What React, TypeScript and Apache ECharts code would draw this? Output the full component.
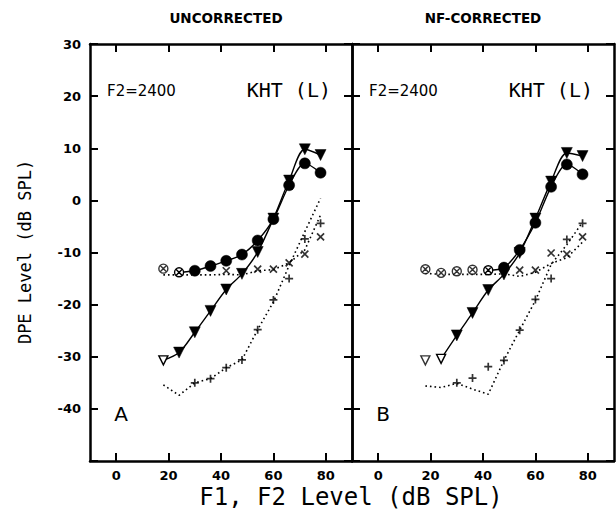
import React, { useEffect, useRef } from 'react';
import * as echarts from 'echarts';

// ---- data ----
const levels = [18, 24, 30, 36, 42, 48, 54, 60, 66, 72, 78];
const xTickValues = [0, 20, 40, 60, 80];

// Panel A (uncorrected)
const aCircle = [-13.1, -13.8, -13.5, -12.6, -11.6, -10.4, -7.7, -3.6, 2.9, 7.1, 5.3];
const aCircleOpen = 2; // leading points drawn as ⊗
const aCircleLineStart = 1;
const aTri = [-30.7, -29.2, -25.3, -21.2, -17.1, -14.1, -9.9, -3.5, 3.8, 9.8, 8.7];
const aTriOpen = 1;
const aTriLineStart = 0;
const aNfUpper = [-14.3, -14.3, -14.3, -14.3, -14.2, -14.3, -13.5, -13.3, -12.0, -9.5, -2.8];
const aNfLower = [-35.4, -37.4, -35.0, -34.2, -32.1, -30.6, -24.8, -19.5, -12.5, -6.0, 0.4];
const aCrossX = [42, 54, 60, 66, 72, 78];
const aCrossY = [-13.5, -13.2, -13.2, -12.0, -10.3, -7.0];
const aPlusX = [30, 36, 42, 48, 54, 60, 66, 72, 78];
const aPlusY = [-35.0, -34.2, -32.1, -30.6, -24.8, -19.1, -15.0, -7.4, -4.4];

// Panel B (NF-corrected)
const bCircle = [-13.2, -13.9, -13.6, -13.3, -13.4, -12.9, -9.5, -4.3, 2.6, 6.9, 5.0];
const bCircleOpen = 5;
const bCircleLineStart = 4;
const bTri = [-30.7, -30.4, -25.9, -21.6, -17.2, -14.2, -10.1, -3.5, 3.6, 9.1, 8.5];
const bTriOpen = 2;
const bTriLineStart = 1;
const bNfUpper = [-14.0, -14.2, -14.2, -14.2, -14.2, -14.1, -14.6, -13.8, -12.1, -11.0, -8.0];
const bNfLower = [-35.6, -35.9, -35.1, -36.2, -37.2, -30.7, -24.9, -19.2, -12.3, -8.5, -4.2];
const bCrossX = [54, 60, 66, 72, 78];
const bCrossY = [-13.4, -13.4, -10.1, -10.3, -7.0];
const bPlusX = [30, 36, 42, 48, 54, 60, 66, 72, 78];
const bPlusY = [-35.0, -34.1, -31.9, -30.7, -24.9, -19.0, -15.0, -7.5, -4.4];

const yMin = -50;
const yMax = 30;
const xMin = -10;
const xMax = 90;

// ---- symbols ----
const SYM_OCIRC = 'path://M0,5A5,5,0,1,1,10,5A5,5,0,1,1,0,5ZM1.8,1.8L8.2,8.2M8.2,1.8L1.8,8.2';
const SYM_TRI = 'path://M0,0L10,0L5,9Z';
const SYM_CROSS = 'path://M0,0L10,10M10,0L0,10';
const SYM_PLUS = 'path://M5,0L5,10M0,5L10,5';

const filledStyle = { color: '#000', borderColor: '#000', borderWidth: 0.5 };
const openStyle = { color: '#fff', borderColor: '#000', borderWidth: 1.4 };

function curveSeries(
  gridIdx: number,
  values: number[],
  openCount: number,
  lineStart: number,
  filledSym: string,
  openSym: string,
  size: number,
  openSize: number
) {
  const item = (i: number) => ({
    value: [levels[i], values[i]],
    symbol: i < openCount ? openSym : filledSym,
    symbolSize: i < openCount ? openSize : size,
    itemStyle: i < openCount ? openStyle : filledStyle,
  });
  const lineData = [] as any[];
  for (let i = lineStart; i < levels.length; i++) lineData.push(item(i));
  const loose = [] as any[];
  for (let i = 0; i < lineStart; i++) loose.push(item(i));
  const out: any[] = [
    {
      type: 'line',
      xAxisIndex: gridIdx * 2,
      yAxisIndex: gridIdx * 2,
      data: lineData,
      smooth: 0.3,
      symbolSize: size,
      showAllSymbol: true,
      lineStyle: { color: '#000', width: 1.4 },
      z: 5,
    },
  ];
  if (loose.length) {
    out.push({
      type: 'scatter',
      xAxisIndex: gridIdx * 2,
      yAxisIndex: gridIdx * 2,
      data: loose,
      symbolSize: openSize,
      z: 5,
    });
  }
  return out;
}

function dottedSeries(gridIdx: number, values: number[]) {
  return {
    type: 'line',
    xAxisIndex: gridIdx * 2,
    yAxisIndex: gridIdx * 2,
    data: levels.map((x, i) => [x, values[i]]),
    symbol: 'none',
    lineStyle: { color: '#000', width: 1.6, type: [1.6, 3] },
    z: 2,
  };
}

function markerSeries(gridIdx: number, xs: number[], ys: number[], sym: string, size: number) {
  return {
    type: 'scatter',
    xAxisIndex: gridIdx * 2,
    yAxisIndex: gridIdx * 2,
    data: xs.map((x, i) => [x, ys[i]]),
    symbol: sym,
    symbolSize: size,
    itemStyle: { color: '#000', borderColor: '#000', borderWidth: 1.7 },
    z: 3,
  };
}

const lineCol = { color: '#000', width: 2.5 };
const tickFont = { fontFamily: 'DejaVu Sans', fontWeight: 'bold' as const, fontSize: 13, color: '#000' };

function xAxes(gridIdx: number) {
  const base = {
    gridIndex: gridIdx,
    type: 'value',
    min: xMin,
    max: xMax,
    splitLine: { show: false },
    axisLine: { show: true, onZero: false, lineStyle: lineCol },
    axisTick: { show: true, inside: true, length: 8, customValues: xTickValues, lineStyle: { width: 2, color: '#000' } },
  };
  return [
    { ...base, position: 'bottom', axisLabel: { ...tickFont, margin: 8, customValues: xTickValues } },
    { ...base, position: 'top', axisLabel: { show: false } },
  ];
}

function yAxes(gridIdx: number) {
  const base = {
    gridIndex: gridIdx,
    type: 'value',
    min: yMin,
    max: yMax,
    interval: 10,
    splitLine: { show: false },
    axisLine: { show: true, onZero: false, lineStyle: lineCol },
    axisTick: { show: true, inside: true, length: 8, lineStyle: { width: 2, color: '#000' } },
  };
  return [
    {
      ...base,
      position: 'left',
      axisLabel:
        gridIdx === 0
          ? { ...tickFont, margin: 9, formatter: (v: number) => (v === yMin ? '' : String(v)) }
          : { show: false },
    },
    { ...base, position: 'right', axisLabel: { show: false } },
  ];
}

const monoFont = 'DejaVu Sans Mono';

function panelTexts(left: number, right: number, letter: string) {
  return [
    {
      type: 'text',
      x: left + 17,
      y: 91,
      style: { text: 'F2=2400', font: '15px "DejaVu Sans"', fill: '#000', align: 'left', verticalAlign: 'middle' },
    },
    {
      type: 'text',
      x: right - 21,
      y: 90,
      style: { text: 'KHT (L)', font: `20px "${monoFont}"`, fill: '#000', align: 'right', verticalAlign: 'middle' },
    },
    {
      type: 'text',
      x: left + 31,
      y: 414,
      style: { text: letter, font: '20px "DejaVu Sans"', fill: '#000', align: 'center', verticalAlign: 'middle' },
    },
  ];
}

export default function App() {
  const ref = useRef<HTMLDivElement>(null);
  useEffect(() => {
    if (!ref.current) return;
    const chart = echarts.init(ref.current, undefined, { renderer: 'svg' });
    const option: any = {
      animation: false,
      backgroundColor: '#fff',
      grid: [
        { left: 90, top: 44, width: 262, height: 417 },
        { left: 352, top: 44, width: 262, height: 417 },
      ],
      xAxis: [...xAxes(0), ...xAxes(1)],
      yAxis: [...yAxes(0), ...yAxes(1)],
      series: [
        dottedSeries(0, aNfUpper),
        dottedSeries(0, aNfLower),
        markerSeries(0, aCrossX, aCrossY, SYM_CROSS, 7),
        markerSeries(0, aPlusX, aPlusY, SYM_PLUS, 8),
        ...curveSeries(0, aTri, aTriOpen, aTriLineStart, SYM_TRI, SYM_TRI, 11, 9),
        ...curveSeries(0, aCircle, aCircleOpen, aCircleLineStart, 'circle', SYM_OCIRC, 11, 9),
        dottedSeries(1, bNfUpper),
        dottedSeries(1, bNfLower),
        markerSeries(1, bCrossX, bCrossY, SYM_CROSS, 7),
        markerSeries(1, bPlusX, bPlusY, SYM_PLUS, 8),
        ...curveSeries(1, bTri, bTriOpen, bTriLineStart, SYM_TRI, SYM_TRI, 11, 9),
        ...curveSeries(1, bCircle, bCircleOpen, bCircleLineStart, 'circle', SYM_OCIRC, 11, 9),
      ],
      graphic: [
        {
          type: 'text',
          x: 226,
          y: 18,
          style: { text: 'UNCORRECTED', font: 'bold 13.5px "DejaVu Sans"', fill: '#000', align: 'center', verticalAlign: 'middle' },
        },
        {
          type: 'text',
          x: 483,
          y: 18,
          style: { text: 'NF-CORRECTED', font: 'bold 13.5px "DejaVu Sans"', fill: '#000', align: 'center', verticalAlign: 'middle' },
        },
        {
          type: 'text',
          x: 25,
          y: 252,
          rotation: Math.PI / 2,
          style: { text: 'DPE Level (dB SPL)', font: `17px "${monoFont}"`, fill: '#000', align: 'center', verticalAlign: 'middle' },
        },
        {
          type: 'text',
          x: 351,
          y: 497,
          style: { text: 'F1, F2 Level (dB SPL)', font: `24px "${monoFont}"`, fill: '#000', align: 'center', verticalAlign: 'middle' },
        },
        ...panelTexts(90, 352, 'A'),
        ...panelTexts(352, 614, 'B'),
      ],
    };
    chart.setOption(option);
    return () => chart.dispose();
  }, []);
  return <div ref={ref} style={{ position: 'fixed', left: 0, top: 0, width: 616, height: 512 }} />;
}
